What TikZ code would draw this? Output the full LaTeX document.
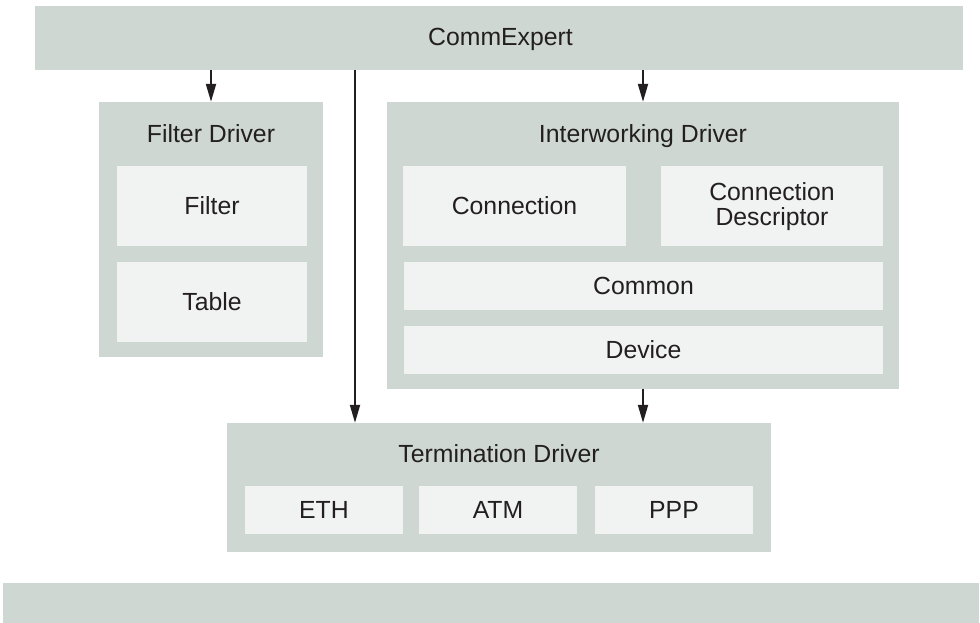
\documentclass[tikz,border=0pt]{standalone}
\usepackage{fontspec}
\setmainfont{Liberation Sans}
\usetikzlibrary{arrows.meta}
\definecolor{outerfill}{HTML}{CED7D2}
\definecolor{innerfill}{HTML}{F1F3F2}
\definecolor{txt}{HTML}{231F20}
\begin{document}
\begin{tikzpicture}[x=1pt,y=-1pt,
  outerbox/.style={rectangle, fill=outerfill, draw=none, inner sep=0pt},
  innerbox/.style={rectangle, fill=innerfill, draw=none, inner sep=0pt, text=txt, align=center, font=\fontsize{24.8}{25}\selectfont},
  title/.style={inner sep=0pt, anchor=base, text=txt, font=\fontsize{24.8}{25}\selectfont},
  label2/.style={inner sep=0pt, text=txt, align=center, font=\fontsize{24.8}{25}\selectfont},
  conn/.style={draw=txt, line width=2pt, -{Triangle[length=18pt,width=10pt]}}]
\useasboundingbox (0,0) rectangle (980,623);
% top bar
\node[outerbox, minimum width=928pt, minimum height=64pt] (top) at (499,38) {};
\node[title] (toptitle) at (500.5,46) {CommExpert};
% filter driver
\node[outerbox, minimum width=224pt, minimum height=255pt] (fdrv) at (211,229.5) {};
\node[title] (fdrvtitle) at (211,142.5) {Filter Driver};
\node[innerbox, minimum width=190pt, minimum height=80pt] (filter) at (212,206) {Filter};
\node[innerbox, minimum width=190pt, minimum height=80pt] (table) at (212,302) {Table};
% interworking driver
\node[outerbox, minimum width=512pt, minimum height=287pt] (iwd) at (643,245.5) {};
\node[title] (iwdtitle) at (643,142.5) {Interworking Driver};
\node[innerbox, minimum width=223pt, minimum height=80pt] (connection) at (514.5,206) {Connection};
\node[innerbox, minimum width=222pt, minimum height=80pt] (cdesc) at (772,206) {};
\node[label2] (cdesctext) at (772,207) {Connection\\Descriptor};
\node[innerbox, minimum width=479pt, minimum height=48pt] (common) at (643.5,286) {Common};
\node[innerbox, minimum width=479pt, minimum height=48pt] (device) at (643.5,350) {Device};
% termination driver
\node[outerbox, minimum width=544pt, minimum height=129pt] (term) at (499,487.5) {};
\node[title] (termtitle) at (499,462.5) {Termination Driver};
\node[innerbox, minimum width=158pt, minimum height=48pt] (eth) at (324,510) {ETH};
\node[innerbox, minimum width=158pt, minimum height=48pt] (atm) at (498,510) {ATM};
\node[innerbox, minimum width=158pt, minimum height=48pt] (ppp) at (674,510) {PPP};
% bottom bar
\node[outerbox, minimum width=976pt, minimum height=40pt] (bottom) at (491,603) {};
% connectors
\coordinate (mid) at (355,70);
\draw[conn] (top.south -| fdrv.north) -- (fdrv.north);
\draw[conn] (top.south -| iwd.north) -- (iwd.north);
\draw[conn] (mid) -- (mid |- term.north);
\draw[conn] (iwd.south) -- (iwd.south |- term.north);
\end{tikzpicture}
\end{document}
